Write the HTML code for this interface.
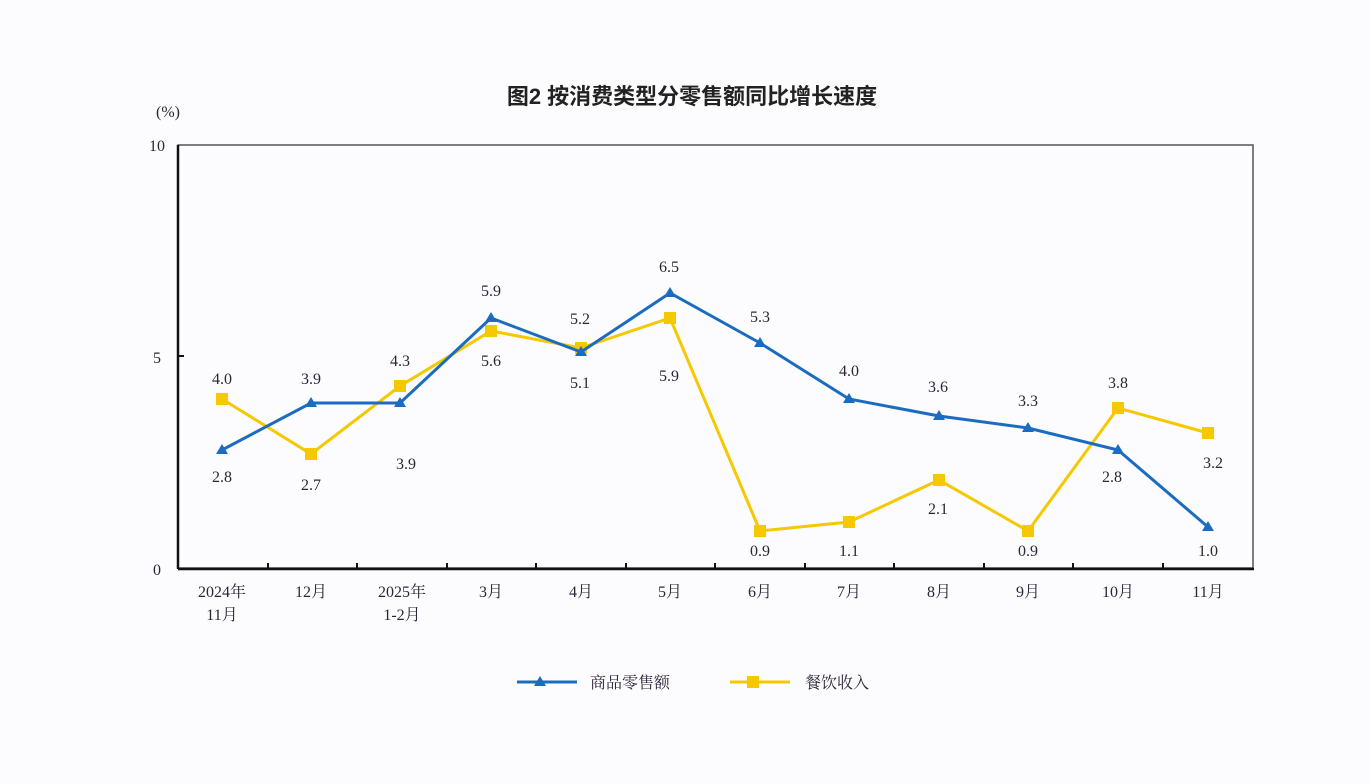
<!DOCTYPE html>
<html><head><meta charset="utf-8"><style>
html,body{margin:0;padding:0;background:#fcfcfe;}
svg{display:block;}
.t{font-family:"Liberation Serif","Noto Serif CJK SC",serif;font-size:16px;fill:#2e2438;text-anchor:middle;}
</style></head><body>
<svg width="1370" height="784" viewBox="0 0 1370 784" xmlns="http://www.w3.org/2000/svg">
<rect width="1370" height="784" fill="#fcfcfe"/>
<text x="692" y="104" style="font-family:'Liberation Sans','Noto Sans CJK SC',sans-serif;font-size:22px;font-weight:bold;fill:#222;text-anchor:middle">图2  按消费类型分零售额同比增长速度</text>
<text class="t" x="168" y="117">(%)</text>
<text class="t" x="157" y="151">10</text>
<text class="t" x="157" y="363">5</text>
<text class="t" x="157" y="575">0</text>
<rect x="178" y="145" width="1075" height="423" fill="none" stroke="#555" stroke-width="1.5"/>
<line x1="178" y1="145" x2="178" y2="569" stroke="#111" stroke-width="2.5"/>
<line x1="178" y1="569" x2="1254" y2="569" stroke="#111" stroke-width="2.5"/>
<line x1="178" y1="356" x2="184" y2="356" stroke="#111" stroke-width="2"/>
<g stroke="#111" stroke-width="2">
<line x1="268" y1="569" x2="268" y2="563"/><line x1="357" y1="569" x2="357" y2="563"/><line x1="447" y1="569" x2="447" y2="563"/><line x1="536" y1="569" x2="536" y2="563"/><line x1="626" y1="569" x2="626" y2="563"/><line x1="715" y1="569" x2="715" y2="563"/><line x1="805" y1="569" x2="805" y2="563"/><line x1="894" y1="569" x2="894" y2="563"/><line x1="984" y1="569" x2="984" y2="563"/><line x1="1073" y1="569" x2="1073" y2="563"/><line x1="1163" y1="569" x2="1163" y2="563"/>
</g>
<g class="t">
<text class="t" x="222" y="597">2024年</text><text class="t" x="222" y="620">11月</text>
<text class="t" x="311" y="597">12月</text>
<text class="t" x="402" y="597">2025年</text><text class="t" x="402" y="620">1-2月</text>
<text class="t" x="491" y="597">3月</text><text class="t" x="581" y="597">4月</text><text class="t" x="670" y="597">5月</text>
<text class="t" x="760" y="597">6月</text><text class="t" x="849" y="597">7月</text><text class="t" x="939" y="597">8月</text>
<text class="t" x="1028" y="597">9月</text><text class="t" x="1118" y="597">10月</text><text class="t" x="1208" y="597">11月</text>
</g>
<polyline fill="none" stroke="#f5c800" stroke-width="3" points="222,399 311,454 400,386 491,331 581,348 670,318 760,531 849,522 939,480 1028,531 1118,408 1208,433"/>
<g fill="#f5c800">
<rect x="216" y="393" width="12" height="12"/><rect x="305" y="448" width="12" height="12"/><rect x="394" y="380" width="12" height="12"/><rect x="485" y="325" width="12" height="12"/><rect x="575" y="342" width="12" height="12"/><rect x="664" y="312" width="12" height="12"/><rect x="754" y="525" width="12" height="12"/><rect x="843" y="516" width="12" height="12"/><rect x="933" y="474" width="12" height="12"/><rect x="1022" y="525" width="12" height="12"/><rect x="1112" y="402" width="12" height="12"/><rect x="1202" y="427" width="12" height="12"/>
</g>
<polyline fill="none" stroke="#1b6cc0" stroke-width="3" points="222,450 311,403 400,403 491,318 581,352 670,293 760,343 849,399 939,416 1028,428 1118,450 1208,527"/>
<g fill="#1b6cc0">
<polygon points="222,444 228,454 216,454"/><polygon points="311,397 317,407 305,407"/><polygon points="400,397 406,407 394,407"/><polygon points="491,312 497,322 485,322"/><polygon points="581,346 587,356 575,356"/><polygon points="670,287 676,297 664,297"/><polygon points="760,337 766,347 754,347"/><polygon points="849,393 855,403 843,403"/><polygon points="939,410 945,420 933,420"/><polygon points="1028,422 1034,432 1022,432"/><polygon points="1118,444 1124,454 1112,454"/><polygon points="1208,521 1214,531 1202,531"/>
</g>
<g>
<text class="t" x="222" y="384">4.0</text><text class="t" x="222" y="482">2.8</text>
<text class="t" x="311" y="384">3.9</text><text class="t" x="311" y="490">2.7</text>
<text class="t" x="400" y="366">4.3</text><text class="t" x="406" y="469">3.9</text>
<text class="t" x="491" y="296">5.9</text><text class="t" x="491" y="366">5.6</text>
<text class="t" x="580" y="324">5.2</text><text class="t" x="580" y="388">5.1</text>
<text class="t" x="669" y="272">6.5</text><text class="t" x="669" y="381">5.9</text>
<text class="t" x="760" y="322">5.3</text><text class="t" x="760" y="556">0.9</text>
<text class="t" x="849" y="376">4.0</text><text class="t" x="849" y="556">1.1</text>
<text class="t" x="938" y="392">3.6</text><text class="t" x="938" y="514">2.1</text>
<text class="t" x="1028" y="406">3.3</text><text class="t" x="1028" y="556">0.9</text>
<text class="t" x="1118" y="388">3.8</text><text class="t" x="1112" y="482">2.8</text>
<text class="t" x="1213" y="468">3.2</text><text class="t" x="1208" y="556">1.0</text>
</g>
<line x1="517" y1="682" x2="577" y2="682" stroke="#1b6cc0" stroke-width="3"/>
<polygon points="540,676 546,686 534,686" fill="#1b6cc0"/>
<text class="t" x="590" y="688" style="text-anchor:start">商品零售额</text>
<line x1="730" y1="682" x2="790" y2="682" stroke="#f5c800" stroke-width="3"/>
<rect x="747" y="676" width="12" height="12" fill="#f5c800"/>
<text class="t" x="805" y="688" style="text-anchor:start">餐饮收入</text>
</svg>
</body></html>
